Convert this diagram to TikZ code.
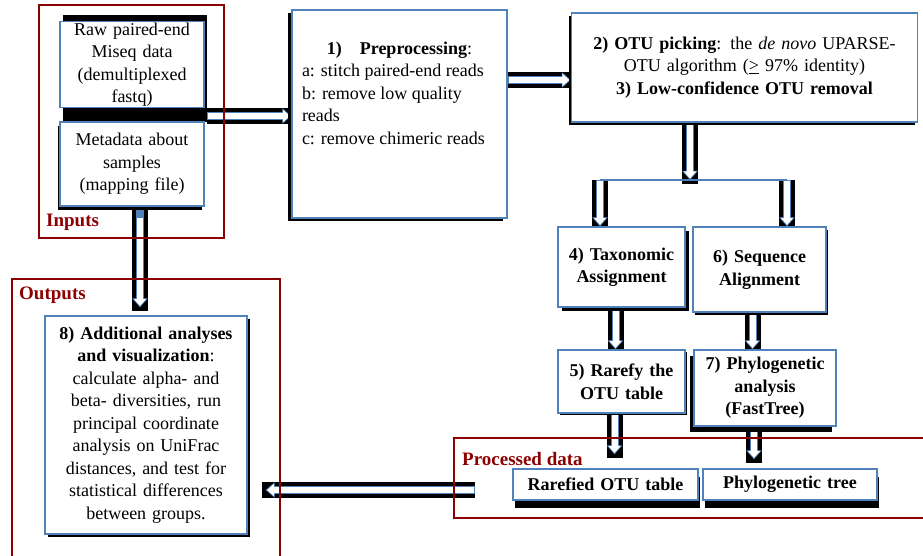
\documentclass[tikz,border=0pt]{standalone}
\usepackage{fontspec}
\setmainfont{Liberation Serif}
\usetikzlibrary{arrows.meta,positioning,shadows,backgrounds}
\definecolor{boxblue}{HTML}{4F81BD}
\definecolor{framered}{HTML}{8B0000}

\begin{document}
\begin{tikzpicture}[x=1pt, y=-1pt,
    every node/.style={font=\fontsize{18}{22.5}\selectfont},
    stepbox/.style={draw=boxblue, line width=1.2pt, fill=white, inner xsep=3pt, inner ysep=1pt, align=center},
    boxshadow/.style 2 args={drop shadow={shadow xshift=#1, shadow yshift=#2, fill=black, opacity=1}},
    frame/.style={draw=framered, line width=2.5pt, inner sep=0pt},
    framelabel/.style={text=framered, font=\fontsize{19}{22}\selectfont\bfseries, inner sep=0pt},
    fatarrow/.style={draw=white, line width=6pt, -{Triangle[length=7pt,width=12pt]}, shorten >=#1+1.5pt, shorten <=1pt,
        preaction={draw=black, line width=16pt, -, shorten >=#1-4pt, shorten <=0pt},
        preaction={draw=boxblue, line width=8pt, -{Triangle[length=9pt,width=15pt]}, shorten >=#1, shorten <=0pt}},
    fatarrow/.default=0pt,
    splitline/.style={draw=boxblue, line width=2pt}]
\useasboundingbox (0,0) rectangle (923,556);

% Frames
\node[frame, minimum width=185, minimum height=233] (inframe) at (131.5,121.5) {};
\node[frame, minimum width=268, minimum height=290] (outframe) at (146,424) {};
\node[frame, minimum width=475, minimum height=80] (procframe) at (691.5,478) {};
\node[framelabel, anchor=south west] (inlabel) at (46,231) {Inputs};
\node[framelabel, anchor=south west] (outlabel) at (19,304) {Outputs};
\node[framelabel, anchor=south west] (proclabel) at (462,466) {Processed data};

% Inputs
\node[stepbox, boxshadow={3pt}{7pt}, boxshadow={3pt}{-15pt}, text width=138, minimum height=85] (raw) at (132,64.5)
    {Raw paired-end\\ Miseq data\\ (demultiplexed\\ fastq)};
\node[stepbox, boxshadow={-2pt}{-4pt}, text width=138, minimum height=84] (meta) at (132,164)
    {Metadata about\\ samples\\ (mapping file)};

% Processing steps
\node[stepbox, boxshadow={-4pt}{-3pt}, minimum width=215, minimum height=208, inner sep=0pt] (preproc) at (399.5,114)
    {\parbox[c][200pt][t]{195pt}{\vspace*{28pt}\centering\textbf{1)\quad Preprocessing}:\par
     \raggedright a: stitch paired-end reads\\ b: remove low quality\\ reads\\ c: remove chimeric reads}};
\node[stepbox, boxshadow={-3pt}{-3pt}, text width=340, minimum height=109] (otu) at (744.5,67.5)
    {\textbf{2) OTU picking}: the \textit{de novo} UPARSE-\\ OTU algorithm (\underline{>} 97\% identity)\\
     \textbf{3) Low-confidence OTU removal}};
\node[stepbox, boxshadow={4pt}{-4pt}, text width=121, minimum height=80, font=\fontsize{18}{22.5}\selectfont\bfseries] (tax) at (621.5,267)
    {4) Taxonomic\\ Assignment};
\node[stepbox, boxshadow={2pt}{-3pt}, text width=127, minimum height=85, font=\fontsize{18}{22.5}\selectfont\bfseries] (align) at (759.5,269.5)
    {6) Sequence\\ Alignment};
\node[stepbox, boxshadow={2pt}{-2pt}, text width=121, minimum height=63, font=\fontsize{18}{22.5}\selectfont\bfseries] (rarefy) at (621.5,381.5)
    {5) Rarefy the\\ OTU table};
\node[stepbox, boxshadow={-4pt}{-6pt}, text width=136, minimum height=76, font=\fontsize{18}{22.5}\selectfont\bfseries] (phylo) at (765,388)
    {7) Phylogenetic\\ analysis\\ (FastTree)};

% Processed data
\node[stepbox, boxshadow={2pt}{-8pt}, text width=179, minimum height=31, font=\fontsize{18}{22.5}\selectfont\bfseries] (rotu) at (605.5,484.5)
    {Rarefied OTU table};
\node[stepbox, boxshadow={2pt}{-8pt}, text width=168, minimum height=31, font=\fontsize{18}{22.5}\selectfont\bfseries] (ptree) at (790,484.5)
    {Phylogenetic tree};

% Outputs
\node[stepbox, boxshadow={3pt}{-3pt}, text width=196, minimum height=218] (analysis) at (146,425)
    {\textbf{8) Additional analyses}\\ \textbf{and visualization}:\\ calculate alpha- and\\ beta- diversities, run\\
     principal coordinate\\ analysis on UniFrac\\ distances, and test for\\ statistical differences\\ between groups.};

% Connectors
\coordinate (inout) at (207,116);
\coordinate (split) at (690,180);
\coordinate (splitL) at (600,180);
\coordinate (splitR) at (787,180);
\coordinate (back) at (475,490);
\begin{scope}[on background layer]
    \draw[fatarrow] (inout) -- (inout -| preproc.west);
    \draw[fatarrow] ([yshift=-12.5pt]preproc.east |- otu.west) -- ([yshift=-12.5pt]otu.west);
    \draw[fatarrow] (split |- otu.south) -- (split);
    \draw[fatarrow] (splitL) -- (splitL |- tax.north);
    \draw[fatarrow] (splitR) -- (splitR |- align.north);
    \draw[splitline] (splitL) -- (splitR);
    \draw[fatarrow] ([xshift=-6pt]tax.south) -- ([xshift=-6pt]rarefy.north);
    \draw[fatarrow] ([xshift=-7pt]align.south) -- ([xshift=-7pt]align.south |- phylo.north);
    \draw[fatarrow=14pt] ([xshift=-7pt]rarefy.south) -- ([xshift=-7pt]rarefy.south |- rotu.north);
    \draw[fatarrow=9pt] ([xshift=-11pt]phylo.south) -- ([xshift=-11pt]phylo.south |- ptree.north);
    \draw[fatarrow=18pt] (back) -- (back -| analysis.east);
    \draw[fatarrow=8pt, shorten <=11pt] ([xshift=8pt]meta.south) -- ([xshift=8pt]meta.south |- analysis.north);
\end{scope}
\end{tikzpicture}
\end{document}
